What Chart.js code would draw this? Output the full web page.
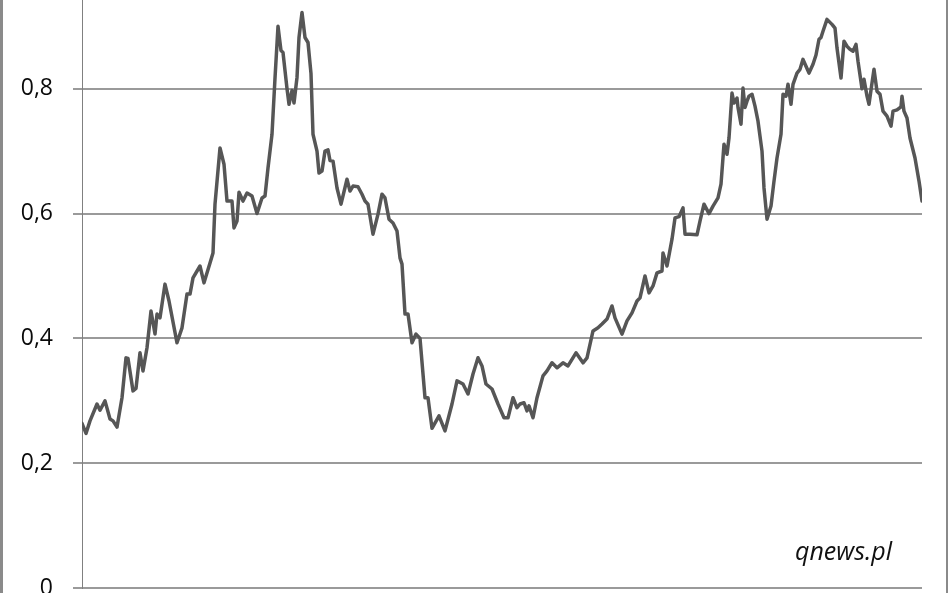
<!DOCTYPE html>
<html>
<head>
<meta charset="utf-8">
<script src="https://cdn.jsdelivr.net/npm/chart.js@4/dist/chart.umd.min.js"></script>
<style>
  html, body { margin: 0; padding: 0; background: #fff; overflow: hidden; }
  #frame {
    position: relative; width: 948px; height: 593px; box-sizing: border-box;
    border-left: 3px solid #8a8a8a; border-right: 2px solid #8a8a8a; overflow: hidden;
  }
  #chart { position: absolute; left: -3px; top: -70px; }
  #mark {
    position: absolute; left: 792px; top: 533px;
    font-family: "Open Sans", sans-serif; font-style: italic; font-size: 25px; color: #111;
  }
</style>
</head>
<body>
<div id="frame">
  <canvas id="chart" width="948" height="692"></canvas>
  <div id="mark">qnews.pl</div>
</div>
<script>
// horizontal position along the time axis (0 = start)
const positions = [
  0, 4, 8, 15, 18, 23, 28, 31, 35, 40, 44, 46, 51, 54, 58, 61, 65, 69, 73, 75,
  78, 83, 87, 95, 100, 105, 108, 111, 118, 122, 128, 131, 133, 138, 142, 145, 150, 152, 155, 157,
  161, 165, 170, 175, 180, 183, 186, 190, 193, 196, 199, 201, 205, 207, 210, 212, 215, 217, 220, 223,
  226, 229, 231, 235, 237, 240, 243, 246, 248, 251, 255, 259, 265, 268, 271, 276, 280, 283, 286, 291,
  296, 300, 303, 307, 311, 315, 318, 320, 323, 326, 330, 334, 338, 343, 346, 350, 357, 363, 370, 375,
  381, 386, 391, 396, 400, 404, 410, 416, 422, 426, 431, 435, 438, 442, 445, 447, 451, 455, 461, 465,
  470, 475, 481, 486, 494, 501, 505, 511, 516, 520, 525, 530, 533, 540, 545, 550, 555, 558, 563, 567,
  571, 575, 580, 581, 585, 590, 593, 597, 601, 603, 608, 615, 618, 622, 627, 631, 636, 639, 642, 645,
  647, 650, 652, 655, 656, 659, 661, 663, 665, 667, 670, 673, 676, 680, 682, 685, 689, 692, 695, 699,
  701, 704, 706, 709, 711, 715, 718, 721, 724, 727, 731, 734, 737, 739, 741, 745, 750, 753, 755, 759,
  762, 765, 768, 771, 774, 776, 780, 782, 785, 787, 790, 792, 795, 798, 801, 805, 809, 811, 815, 819,
  820, 822, 825, 828, 833, 837, 840
];
const values = [
  0.264, 0.248, 0.268, 0.295, 0.285, 0.300, 0.271, 0.268, 0.258, 0.305, 0.369, 0.368, 0.316, 0.320, 0.377, 0.348, 0.385, 0.444, 0.407, 0.439,
  0.433, 0.487, 0.460, 0.393, 0.417, 0.471, 0.471, 0.497, 0.516, 0.489, 0.521, 0.537, 0.615, 0.705, 0.679, 0.620, 0.620, 0.577, 0.588, 0.634,
  0.620, 0.633, 0.628, 0.600, 0.625, 0.628, 0.673, 0.727, 0.817, 0.900, 0.861, 0.858, 0.800, 0.775, 0.797, 0.777, 0.818, 0.882, 0.922, 0.882,
  0.874, 0.824, 0.727, 0.700, 0.665, 0.668, 0.700, 0.702, 0.685, 0.684, 0.641, 0.615, 0.655, 0.636, 0.644, 0.643, 0.631, 0.620, 0.615, 0.567,
  0.599, 0.631, 0.625, 0.591, 0.585, 0.572, 0.529, 0.519, 0.439, 0.439, 0.393, 0.407, 0.400, 0.305, 0.305, 0.256, 0.276, 0.252, 0.295, 0.332,
  0.327, 0.311, 0.343, 0.369, 0.356, 0.327, 0.319, 0.295, 0.273, 0.273, 0.305, 0.289, 0.295, 0.297, 0.284, 0.292, 0.273, 0.305, 0.340, 0.348,
  0.361, 0.353, 0.361, 0.356, 0.377, 0.361, 0.369, 0.412, 0.417, 0.423, 0.431, 0.452, 0.433, 0.407, 0.428, 0.441, 0.460, 0.465, 0.500, 0.473,
  0.484, 0.505, 0.508, 0.537, 0.516, 0.559, 0.593, 0.595, 0.609, 0.567, 0.567, 0.566, 0.588, 0.615, 0.600, 0.612, 0.625, 0.647, 0.711, 0.695,
  0.721, 0.793, 0.777, 0.785, 0.770, 0.743, 0.801, 0.770, 0.780, 0.788, 0.791, 0.772, 0.748, 0.700, 0.641, 0.591, 0.612, 0.652, 0.689, 0.727,
  0.791, 0.788, 0.807, 0.775, 0.807, 0.825, 0.831, 0.847, 0.836, 0.825, 0.839, 0.854, 0.879, 0.882, 0.892, 0.911, 0.903, 0.897, 0.865, 0.817,
  0.876, 0.868, 0.863, 0.860, 0.871, 0.844, 0.800, 0.815, 0.788, 0.775, 0.809, 0.831, 0.796, 0.791, 0.764, 0.756, 0.740, 0.764, 0.766, 0.771,
  0.788, 0.764, 0.753, 0.721, 0.689, 0.652, 0.620
];
const yTicks = [0, 0.2, 0.4, 0.6, 0.8, 1];

const points = positions.map((x, i) => ({ x: x, y: values[i] }));

new Chart(document.getElementById('chart'), {
  type: 'line',
  data: {
    datasets: [{
      data: points,
      borderColor: '#565656',
      borderWidth: 3.5,
      borderJoinStyle: 'round',
      borderCapStyle: 'round',
      pointRadius: 0,
      tension: 0,
      fill: false
    }]
  },
  options: {
    responsive: false,
    animation: false,
    layout: { padding: { left: 0, right: 26, top: 20, bottom: 20 } },
    plugins: { legend: { display: false }, tooltip: { enabled: false } },
    scales: {
      x: {
        type: 'linear', display: false,
        min: positions[0], max: positions[positions.length - 1]
      },
      y: {
        min: 0, max: 1,
        afterFit: s => { s.width = 82; },
        afterBuildTicks: s => { s.ticks = yTicks.map(v => ({ value: v })); },
        border: { color: '#808080', width: 1 },
        grid: { color: '#9a9a9a', lineWidth: 2, tickLength: 9, drawTicks: true },
        ticks: {
          color: '#0a0a0a',
          padding: 20,
          font: { family: '"Open Sans", sans-serif', size: 23 },
          callback: v => String(v).replace('.', ',')
        }
      }
    }
  }
});
</script>
</body>
</html>
